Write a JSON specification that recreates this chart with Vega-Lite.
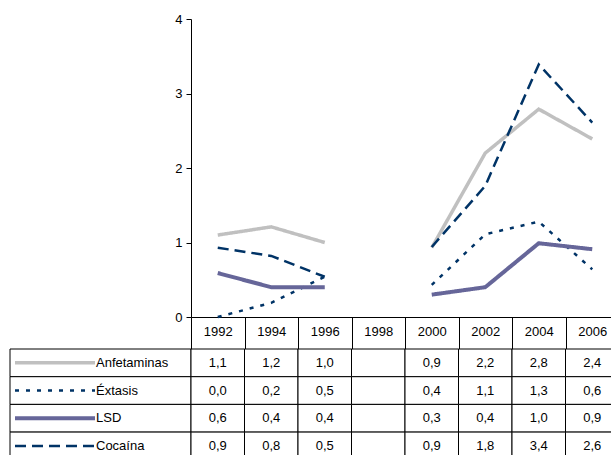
{
  "$schema": "https://vega.github.io/schema/vega-lite/v6.json",
  "padding": {"left": 9, "top": 13, "right": 0, "bottom": 0},
  "config": {
    "font": "Liberation Sans",
    "view": {"stroke": null},
    "locale": {"number": {"decimal": ",", "thousands": ".", "grouping": [3], "currency": ["", " €"]}}
  },
  "datasets": {
    "consumo": [
      {"sustancia": "Anfetaminas", "anio": "1992", "valor": 1.10},
      {"sustancia": "Anfetaminas", "anio": "1994", "valor": 1.21},
      {"sustancia": "Anfetaminas", "anio": "1996", "valor": 1.00},
      {"sustancia": "Anfetaminas", "anio": "1998", "valor": null},
      {"sustancia": "Anfetaminas", "anio": "2000", "valor": 0.93},
      {"sustancia": "Anfetaminas", "anio": "2002", "valor": 2.20},
      {"sustancia": "Anfetaminas", "anio": "2004", "valor": 2.79},
      {"sustancia": "Anfetaminas", "anio": "2006", "valor": 2.39},
      {"sustancia": "Éxtasis", "anio": "1992", "valor": 0.0},
      {"sustancia": "Éxtasis", "anio": "1994", "valor": 0.19},
      {"sustancia": "Éxtasis", "anio": "1996", "valor": 0.54},
      {"sustancia": "Éxtasis", "anio": "1998", "valor": null},
      {"sustancia": "Éxtasis", "anio": "2000", "valor": 0.43},
      {"sustancia": "Éxtasis", "anio": "2002", "valor": 1.11},
      {"sustancia": "Éxtasis", "anio": "2004", "valor": 1.28},
      {"sustancia": "Éxtasis", "anio": "2006", "valor": 0.64},
      {"sustancia": "LSD", "anio": "1992", "valor": 0.59},
      {"sustancia": "LSD", "anio": "1994", "valor": 0.40},
      {"sustancia": "LSD", "anio": "1996", "valor": 0.40},
      {"sustancia": "LSD", "anio": "1998", "valor": null},
      {"sustancia": "LSD", "anio": "2000", "valor": 0.30},
      {"sustancia": "LSD", "anio": "2002", "valor": 0.40},
      {"sustancia": "LSD", "anio": "2004", "valor": 0.99},
      {"sustancia": "LSD", "anio": "2006", "valor": 0.91},
      {"sustancia": "Cocaína", "anio": "1992", "valor": 0.93},
      {"sustancia": "Cocaína", "anio": "1994", "valor": 0.82},
      {"sustancia": "Cocaína", "anio": "1996", "valor": 0.54},
      {"sustancia": "Cocaína", "anio": "1998", "valor": null},
      {"sustancia": "Cocaína", "anio": "2000", "valor": 0.94},
      {"sustancia": "Cocaína", "anio": "2002", "valor": 1.76},
      {"sustancia": "Cocaína", "anio": "2004", "valor": 3.39},
      {"sustancia": "Cocaína", "anio": "2006", "valor": 2.61}
    ],
    "series": [
      {"sustancia": "Anfetaminas"},
      {"sustancia": "Éxtasis"},
      {"sustancia": "LSD"},
      {"sustancia": "Cocaína"}
    ]
  },
  "columns": 2,
  "spacing": {"row": 32, "column": 0},
  "bounds": "flush",
  "concat": [
    {
      "width": 181,
      "height": 298,
      "data": {"values": []},
      "mark": "point",
      "encoding": {}
    },
    {
      "width": 428,
      "height": 298,
      "data": {"name": "consumo"},
      "mark": {"type": "line", "strokeCap": "butt", "strokeJoin": "miter"},
      "encoding": {
        "x": {
          "field": "anio", "type": "ordinal", "bandPosition": 0.5,
          "scale": {"type": "band", "domain": ["1992", "1994", "1996", "1998", "2000", "2002", "2004", "2006"], "paddingInner": 0, "paddingOuter": 0},
          "axis": {"title": null, "domainColor": "#000", "tickColor": "#000", "tickSize": 32, "tickBand": "extent", "labelPadding": -18, "labelBaseline": "middle", "labelFontSize": 13, "labelColor": "#000", "labelAngle": 0}
        },
        "y": {
          "field": "valor", "type": "quantitative",
          "scale": {"domain": [0, 4], "nice": false},
          "axis": {"title": null, "values": [0, 1, 2, 3, 4], "format": "d", "grid": false, "domainColor": "#000", "tickColor": "#000", "tickSize": 5, "labelPadding": 4, "labelFontSize": 13, "labelColor": "#000"}
        },
        "color": {"field": "sustancia", "type": "nominal", "scale": {"domain": ["Anfetaminas", "Éxtasis", "LSD", "Cocaína"], "range": ["#C0C0C0", "#003366", "#666699", "#003366"]}, "legend": null},
        "strokeDash": {"field": "sustancia", "type": "nominal", "scale": {"domain": ["Anfetaminas", "Éxtasis", "LSD", "Cocaína"], "range": [[1, 0], [4, 7], [1, 0], [11, 6]]}, "legend": null},
        "strokeWidth": {"field": "sustancia", "type": "nominal", "scale": {"type": "ordinal", "domain": ["Anfetaminas", "Éxtasis", "LSD", "Cocaína"], "range": [3.5, 2.5, 4, 2.5]}, "legend": null}
      }
    },
    {
      "width": 181,
      "height": 110.8,
      "data": {"name": "series"},
      "layer": [
        {
          "mark": {"type": "rect", "fill": "white", "stroke": "black", "strokeWidth": 1},
          "encoding": {
            "x": {"datum": 0, "type": "quantitative", "scale": {"domain": [0, 181], "nice": false, "zero": false}, "axis": null},
            "x2": {"datum": 181},
            "y": {"field": "sustancia", "type": "nominal", "scale": {"domain": ["Anfetaminas", "Éxtasis", "LSD", "Cocaína"], "paddingInner": 0, "paddingOuter": 0}, "axis": null}
          }
        },
        {
          "mark": {"type": "rule", "strokeCap": "butt"},
          "encoding": {
            "x": {"datum": 5, "type": "quantitative"},
            "x2": {"datum": 85},
            "y": {"field": "sustancia", "type": "nominal", "bandPosition": 0.5},
            "color": {"field": "sustancia", "type": "nominal", "scale": {"domain": ["Anfetaminas", "Éxtasis", "LSD", "Cocaína"], "range": ["#C0C0C0", "#003366", "#666699", "#003366"]}, "legend": null},
            "strokeDash": {"field": "sustancia", "type": "nominal", "scale": {"domain": ["Anfetaminas", "Éxtasis", "LSD", "Cocaína"], "range": [[1, 0], [4, 6], [1, 0], [14, 7]]}, "legend": null},
            "strokeWidth": {"field": "sustancia", "type": "nominal", "scale": {"type": "ordinal", "domain": ["Anfetaminas", "Éxtasis", "LSD", "Cocaína"], "range": [3.5, 2, 4, 3]}, "legend": null}
          }
        },
        {
          "mark": {"type": "text", "align": "left", "baseline": "middle", "fontSize": 13, "color": "#000"},
          "encoding": {
            "x": {"datum": 86, "type": "quantitative"},
            "y": {"field": "sustancia", "type": "nominal", "bandPosition": 0.5},
            "text": {"field": "sustancia"}
          }
        }
      ]
    },
    {
      "width": 428,
      "height": 110.8,
      "data": {"name": "consumo"},
      "layer": [
        {
          "mark": {"type": "rect", "fill": "white", "stroke": "black", "strokeWidth": 1},
          "encoding": {
            "x": {"field": "anio", "type": "ordinal", "scale": {"type": "band", "domain": ["1992", "1994", "1996", "1998", "2000", "2002", "2004", "2006"], "paddingInner": 0, "paddingOuter": 0}, "axis": null},
            "y": {"field": "sustancia", "type": "nominal", "scale": {"domain": ["Anfetaminas", "Éxtasis", "LSD", "Cocaína"], "paddingInner": 0, "paddingOuter": 0}, "axis": null}
          }
        },
        {
          "transform": [{"filter": "datum.valor != null"}],
          "mark": {"type": "text", "align": "center", "baseline": "middle", "fontSize": 13, "color": "#000"},
          "encoding": {
            "x": {"field": "anio", "type": "ordinal", "bandPosition": 0.5},
            "y": {"field": "sustancia", "type": "nominal", "bandPosition": 0.5},
            "text": {"field": "valor", "type": "quantitative", "format": ".1f"}
          }
        }
      ]
    }
  ]
}
